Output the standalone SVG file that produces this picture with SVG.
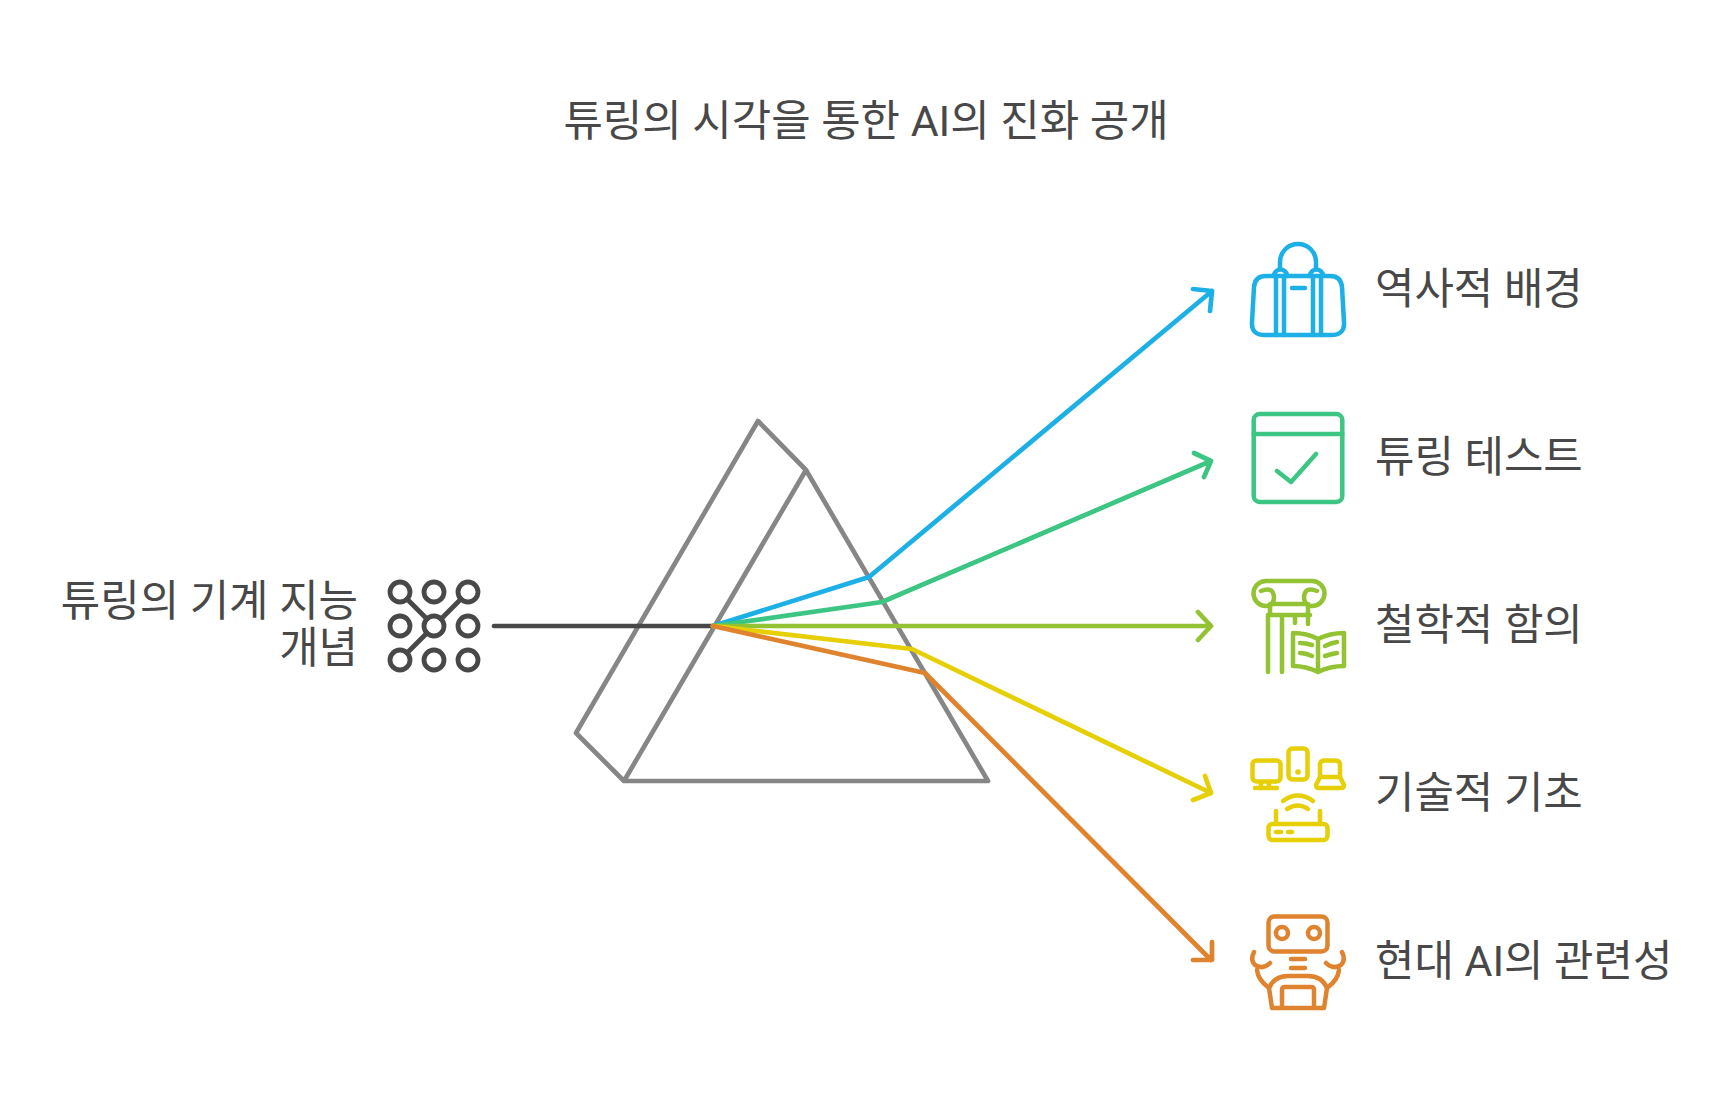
<svg xmlns="http://www.w3.org/2000/svg" width="1732" height="1108" viewBox="0 0 1732 1108">
<defs><style>
text{font-family:Roboto,"Noto Sans CJK KR",sans-serif;fill:#484848;font-size:42.85px}
.i{fill:none;stroke-width:4.5;stroke-linecap:round;stroke-linejoin:round}
.c{fill:none;stroke-width:4.7;stroke-linecap:round;stroke-linejoin:round}
.blue{stroke:#1cb0e6}.green{stroke:#3cc583}.lime{stroke:#93c332}.yellow{stroke:#e6cf05}.orange{stroke:#e0832f}.dark{stroke:#484848}
</style></defs>
<rect width="1732" height="1108" fill="#fff"/>
<text id="title" x="866" y="136" text-anchor="middle">튜링의 시각을 통한 AI의 진화 공개</text>
<g id="prism"><path d="M758 421L806 470L988 781H624L576 733ZM806 470L624 781" fill="none" stroke="#868686" stroke-width="4.7" stroke-linejoin="round"/></g>
<g id="connectors">
<path class="c dark" d="M494 626H713"/>
<path class="c blue" d="M713 626L869 577L1212 291M1193 289L1212 291L1210 311"/>
<path class="c green" d="M713 626L882 602L1211 461M1194 453L1211 461L1204 477"/>
<path class="c lime" d="M713 626H1211M1198 612L1211 626L1198 640"/>
<path class="c yellow" d="M713 626L912 649L1211 793M1205 776L1211 793L1193 800"/>
<path class="c orange" d="M713 626L925 673L1211 960M1212 942L1212 960L1193 960"/>
</g>
<g id="source">
<text x="358" y="616" text-anchor="end">튜링의 기계 지능</text>
<text x="358" y="663" text-anchor="end">개념</text>
<g class="i dark" style="stroke-width:4.8">
<circle cx="400" cy="592" r="10"/><circle cx="434" cy="592" r="10"/><circle cx="468" cy="592" r="10"/>
<circle cx="400" cy="626" r="10"/><circle cx="434" cy="626" r="10"/><circle cx="468" cy="626" r="10"/>
<circle cx="400" cy="660" r="10"/><circle cx="434" cy="660" r="10"/><circle cx="468" cy="660" r="10"/>
<path d="M407 599L427 619M441 619L461 599M427 633L407 653"/>
</g></g>
<g id="n1">
<g class="i blue">
<path d="M1266 276H1330Q1341 276 1342 287L1344 322Q1345 335 1331 335H1265Q1251 335 1252 322L1254 287Q1255 276 1266 276Z"/>
<path d="M1276 335V276M1284 335V276M1313 335V276M1321 335V276M1292 288H1305"/>
<path d="M1274 276A6.5 6.5 0 0 1 1287 276M1310 276A6.5 6.5 0 0 1 1323 276"/>
<path d="M1280 269V262A18 18 0 0 1 1316 262V269"/>
</g><text x="1375" y="304">역사적 배경</text></g>
<g id="n2">
<g class="i green">
<rect x="1253.7" y="414" width="88.6" height="88" rx="6"/><path d="M1253.7 434H1342.3M1277 471L1291 482L1316 454"/>
</g><text x="1375" y="472">튜링 테스트</text></g>
<g id="n3">
<g class="i lime">
<path d="M1266 581H1312A12.5 12.5 0 0 1 1312 606M1266 581A12.5 12.5 0 0 0 1266 606"/>
<path d="M1261 591Q1273 586 1274 597Q1274 605 1267 606M1317 591Q1305 586 1304 597Q1304 605 1311 606"/>
<path d="M1270 604H1308V615M1270 604V615M1268 615H1310M1268 615V672M1282 615V672M1295 615V623M1308 615V624"/>
<path d="M1293 633Q1307 633 1318 639Q1330 633 1344 633V666Q1330 666 1318 672Q1306 666 1293 666ZM1318 639V672M1300 643Q1306 643 1312 645M1300 653Q1306 653 1312 656M1325 646Q1331 643 1337 642M1325 656Q1331 654 1337 653"/>
</g><text x="1375" y="640">철학적 함의</text></g>
<g id="n4">
<g class="i yellow">
<rect x="1252.5" y="760.5" width="28" height="21" rx="4"/><path d="M1261 782V788M1269 782V788M1255 788H1277"/>
<rect x="1288.5" y="748.5" width="19" height="31" rx="4"/><circle cx="1298" cy="772" r="2.8" fill="#e6cf05" stroke="none"/>
<path d="M1320 777V765Q1320 760.5 1325 760.5H1335Q1340 760.5 1340 765V777M1320 777H1340L1344 785Q1344 788 1341 788H1319Q1316 788 1316 785Z"/>
<path d="M1283 801Q1298 790 1313 801M1287 809Q1298 802 1308 809"/>
<path d="M1276 811V824M1320 811V824"/><rect x="1268.5" y="824" width="59" height="16" rx="4"/><path d="M1276 832H1281M1288 832H1292"/>
</g><text x="1375" y="808">기술적 기초</text></g>
<g id="n5">
<g class="i orange">
<rect x="1268.5" y="916.5" width="59" height="35" rx="6"/><circle cx="1282" cy="933" r="6"/><circle cx="1314" cy="933" r="6"/>
<path d="M1291 959H1305M1291 968H1305"/>
<path d="M1254 952Q1250 960 1255 965Q1263 970 1270 963M1342 952Q1346 960 1341 965Q1333 970 1326 963M1257 970Q1258 980 1269 988M1339 970Q1338 980 1327 988"/>
<path d="M1272 1008L1269 988Q1274 976 1288 976H1308Q1322 976 1327 988L1324 1008ZM1282 1008V990Q1282 987 1285 987H1311Q1314 987 1314 990V1008"/>
</g><text x="1375" y="976">현대 AI의 관련성</text></g>
</svg>
